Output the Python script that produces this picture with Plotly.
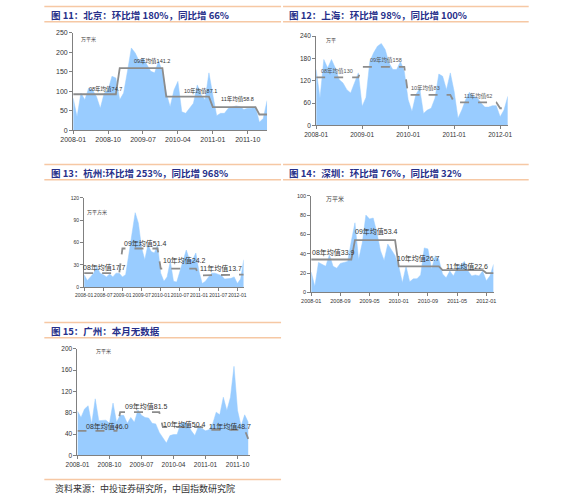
import plotly.graph_objects as go

W, H = 575, 500
# the photographed page comes out slightly shrunk and shifted; positions below are
# picture pixels and get mapped back to page pixels before use
SX, OX = 0.9757, 13.5
SY, OY = 0.980, 4.4


def fx(px):
    return (px - OX) / SX / W


def fy(py):
    return 1 - (py - OY) / SY / H


# months 2008-01 .. 2012-03
months = ["%d-%02d" % (y, m) for y in range(2008, 2013) for m in range(1, 13)][:51]
years = ["08", "09", "10", "11", "12"]

# monthly transaction area (万平米)
beijing = [82, 34, 95, 78, 108, 103, 86, 56, 95, 103, 138, 134,
           78, 95, 151, 211, 198, 177, 185, 168, 151, 147, 177, 151,
           95, 60, 103, 125, 47, 43, 56, 69, 116, 90, 78, 147,
           90, 37, 43, 43, 56, 60, 62, 60, 53, 56, 56, 60,
           20, 30, 76]
shanghai = [150, 73, 177, 154, 177, 154, 123, 114, 96, 87, 114, 141,
            51, 75, 172, 195, 213, 220, 204, 168, 150, 150, 172, 145,
            69, 37, 82, 100, 32, 41, 46, 73, 138, 132, 96, 141,
            91, 19, 41, 69, 89, 78, 75, 60, 49, 49, 53, 53,
            23, 41, 78]
hangzhou = [17, 9, 14, 19, 28, 19, 17, 14, 18, 14, 19, 19,
            14, 17, 44, 71, 100, 86, 53, 37, 57, 48, 46, 57,
            19, 8, 14, 35, 8, 7, 21, 37, 50, 37, 37, 46,
            21, 5, 8, 14, 19, 19, 17, 16, 11, 11, 12, 14,
            5, 11, 37]
shenzhen = [21, 6, 31, 29, 27, 39, 27, 25, 30, 31, 32, 53,
            72, 34, 51, 80, 76, 77, 62, 43, 33, 50, 44, 38,
            27, 10, 27, 11, 14, 14, 18, 46, 45, 24, 38, 34,
            19, 15, 22, 17, 25, 29, 32, 22, 17, 18, 17, 22,
            12, 17, 29]
guangzhou = [83, 71, 87, 93, 59, 106, 65, 65, 66, 60, 98, 62,
             75, 75, 60, 71, 62, 85, 75, 71, 70, 60, 59, 43,
             34, 23, 37, 39, 39, 59, 62, 59, 46, 37, 54, 50,
             46, 48, 59, 81, 76, 109, 84, 109, 167, 84, 55, 76,
             62]

# yearly average line levels as drawn
beijing_avg = [92, 159, 86, 59, 40]
shanghai_avg = [129, 157, 82, 62, 46]
hangzhou_avg = [19, 52, 25, 16, 17]
shenzhen_avg = [34, 54, 27, 23, 20]
guangzhou_avg = [46, 81, 53, 48, 31]

beijing_labels = ["08年均值74.7", "09年均值141.2", "10年均值87.1", "11年均值58.8"]
shanghai_labels = ["08年均值130", "09年均值158", "10年均值83", "11年均值62"]
hangzhou_labels = ["08年均值17.7", "09年均值51.4", "10年均值24.2", "11年均值13.7"]
shenzhen_labels = ["08年均值33.9", "09年均值53.4", "10年均值26.7", "11年均值22.6"]
guangzhou_labels = ["08年均值46.0", "09年均值81.5", "10年均值50.4", "11年均值48.7"]

ticks_9m = ["2008-01", "2008-10", "2009-07", "2010-04", "2011-01", "2011-10"]
ticks_12m = ["2008-01", "2009-01", "2010-01", "2011-01", "2012-01"]
ticks_6m = ["2008-01", "2008-07", "2009-01", "2009-07", "2010-01",
            "2010-07", "2011-01", "2011-07", "2012-01"]
ticks_8m = ["2008-01", "2008-09", "2009-05", "2010-01", "2010-09", "2011-05", "2012-01"]

titles = ["图 11：北京：环比增 180%，同比增 66%",
          "图 12：上海：环比增 98%，同比增 100%",
          "图 13：杭州:环比增 253%，同比增 968%",
          "图 14：深圳：环比增 76%，同比增 32%",
          "图 15：广州：本月无数据"]
source = "资料来源：中投证券研究所，中国指数研究院"

FILL = "#99CCFF"
GREY = "#8c8c8c"
AX = "#808080"
NAVY = "#27308a"
ORANGE = "#f6c8a4"
SANS = "Liberation Sans, Noto Sans CJK SC"
CJK = "Noto Sans CJK SC"

panels = [
    dict(vals=beijing, avg=beijing_avg, labels=beijing_labels, ticks=ticks_9m,
         dash="solid", box=(74, 269, 129.7, 33), xmax=50, yr=250, dt=50,
         tf=7, lf=5.5, uf=5, unit="万平米", unit_at=(4, 234),
         lab_at=[(8.3, 105), (20.3, 178), (32.7, 100), (42.4, 79)], lcol="#333"),
    dict(vals=shanghai, avg=shanghai_avg, labels=shanghai_labels, ticks=ticks_12m,
         dash="dash", box=(318.3, 511, 125, 36.3), xmax=50, yr=240, dt=60,
         tf=6.5, lf=5.5, uf=5, unit="万平", unit_at=(3.8, 230),
         lab_at=[(5.4, 146), (18.1, 176), (28.6, 100), (42.2, 78)], lcol="#555"),
    dict(vals=hangzhou, avg=hangzhou_avg, labels=hangzhou_labels, ticks=ticks_6m,
         dash="dash", box=(85, 245.5, 286, 197), xmax=50, yr=120, dt=30,
         tf=5, lf=7, uf=5, unit="万平方米", unit_at=(4.0, 101),
         lab_at=[(6.4, 27), (19.2, 59), (31.5, 36), (42.8, 25.6)], lcol="#333"),
    dict(vals=shenzhen, avg=shenzhen_avg, labels=shenzhen_labels, ticks=ticks_8m,
         dash="solid", box=(313.3, 496.7, 291, 195), xmax=50, yr=100, dt=20,
         tf=5.5, lf=7, uf=6, unit="万平米", unit_at=(6.5, 97),
         lab_at=[(6.2, 41.7), (17.8, 62.5), (29.4, 35.4), (42.6, 27)], lcol="#333"),
    dict(vals=guangzhou, avg=guangzhou_avg, labels=guangzhou_labels, ticks=ticks_9m,
         dash="dash", box=(78.3, 251.8, 453, 347), xmax=48.5, yr=200, dt=40,
         tf=6.5, lf=7, uf=5, unit="万平米", unit_at=(7.3, 196),
         lab_at=[(8.4, 55), (19.5, 92), (30.2, 58.5), (42.8, 55)], lcol="#333"),
]

fig = go.Figure()
layout = dict(width=W, height=H, autosize=False, margin=dict(l=0, r=0, t=0, b=0),
              paper_bgcolor="white", plot_bgcolor="white", showlegend=False,
              annotations=[], shapes=[])

for k, p in enumerate(panels, start=1):
    sfx = "" if k == 1 else str(k)
    xa, ya = "x" + sfx, "y" + sfx
    n = len(p["vals"])
    xs = months[:n]
    fig.add_trace(go.Scatter(x=xs, y=p["vals"], mode="lines", fill="tozeroy",
                             fillcolor=FILL, line=dict(width=0.5, color=FILL),
                             xaxis=xa, yaxis=ya, hoverinfo="skip"))
    # yearly average step line
    sx, sy = [], []
    for j, lvl in enumerate(p["avg"]):
        for i in range(12 * j, min(12 * j + 12, n)):
            sx.append(months[i])
            sy.append(lvl)
    fig.add_trace(go.Scatter(x=sx, y=sy, mode="lines",
                             line=dict(width=1.8, color=GREY, dash=p["dash"]),
                             xaxis=xa, yaxis=ya, hoverinfo="skip"))

    x0, x1, yb, yt = p["box"]
    layout["xaxis" + sfx] = dict(
        domain=[fx(x0), fx(x1)], anchor=ya, type="category", categoryarray=months,
        range=[0, p["xmax"]], tickvals=p["ticks"], ticktext=p["ticks"],
        showline=True, linecolor=AX, linewidth=1, ticks="outside", ticklen=3,
        tickcolor=AX, tickfont=dict(family=SANS, size=p["tf"], color="#333"),
        showgrid=False, zeroline=False, fixedrange=True, tickangle=0)
    layout["yaxis" + sfx] = dict(
        domain=[fy(yb), fy(yt)], anchor=xa, range=[0, p["yr"]], dtick=p["dt"],
        showline=True, linecolor=AX, linewidth=1, ticks="outside", ticklen=3,
        tickcolor=AX, tickfont=dict(family=SANS, size=p["tf"], color="#333"),
        showgrid=False, zeroline=False, fixedrange=True)

    layout["annotations"].append(dict(
        text=p["unit"], x=p["unit_at"][0], y=p["unit_at"][1], xref=xa, yref=ya,
        showarrow=False, font=dict(family=CJK, size=p["uf"], color="#444")))
    for t, (lx, ly) in zip(p["labels"], p["lab_at"]):
        layout["annotations"].append(dict(
            text=t, x=lx, y=ly, xref=xa, yref=ya, showarrow=False,
            font=dict(family=SANS, size=p["lf"], color=p["lcol"])))

# panel headers: title text between two thin orange rules
heads = [(45, 283, 7, 22, 50, 15), (285, 532, 7, 22, 289, 15),
         (45, 283, 164, 179, 50, 172), (285, 532, 164, 179, 289, 172),
         (45, 283, 321, 336, 50, 329)]
for t, (hx0, hx1, ht, hb, tx, ty) in zip(titles, heads):
    for yy in (ht, hb):
        layout["shapes"].append(dict(type="line", xref="paper", yref="paper",
                                     x0=fx(hx0), x1=fx(hx1), y0=fy(yy), y1=fy(yy),
                                     line=dict(color=ORANGE, width=1.5)))
    layout["annotations"].append(dict(
        text="<b>" + t + "</b>", x=fx(tx), y=fy(ty), xref="paper", yref="paper",
        xanchor="left", yanchor="middle", showarrow=False,
        font=dict(family=CJK, size=9.5, color=NAVY)))

layout["shapes"].append(dict(type="line", xref="paper", yref="paper",
                             x0=fx(45), x1=fx(283), y0=fy(477), y1=fy(477),
                             line=dict(color=ORANGE, width=1.5)))
layout["annotations"].append(dict(
    text=source, x=fx(54), y=fy(486), xref="paper", yref="paper",
    xanchor="left", yanchor="middle", showarrow=False,
    font=dict(family=CJK, size=9, color="#333")))

fig.update_layout(**layout)
fig.write_html("out.html", config={"displayModeBar": False},
               post_script="document.body.style.margin='0';")
